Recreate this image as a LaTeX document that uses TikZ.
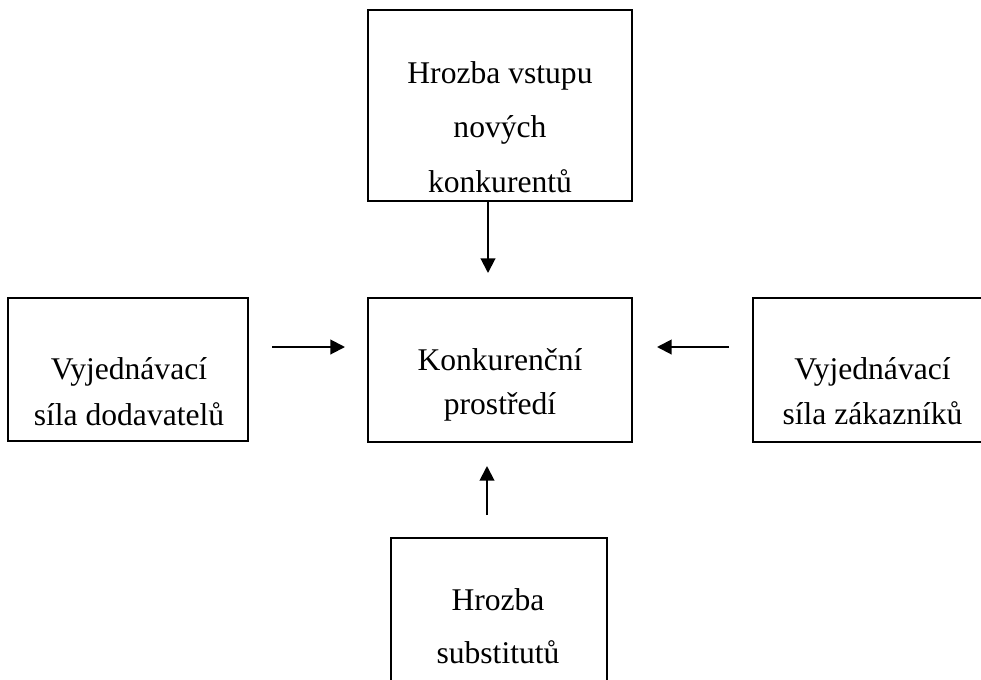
\documentclass[tikz,border=0pt]{standalone}
\usepackage{fontspec}
\setmainfont{Liberation Serif}
\usetikzlibrary{arrows.meta}
\begin{document}
\begin{tikzpicture}[x=0.75pt,y=-0.75pt,
  box/.style={draw=black,line width=1.5pt,inner sep=0pt,minimum width=#1},
  txt/.style={anchor=base,inner sep=0pt,font=\fontsize{23.7}{28}\selectfont},
  arr/.style={line width=1.5pt,-{Triangle[length=11pt,width=11pt]}}]
\useasboundingbox (0,0) rectangle (981,679);
\clip (0,0) rectangle (981,679);
\fill[white] (0,0) rectangle (981,679);
% boxes
\node[box=198pt,minimum height=143.25pt] (top) at (500,105.5) {};
\node[box=180pt,minimum height=107.25pt] (left) at (128,369.5) {};
\node[box=198pt,minimum height=108pt] (center) at (500,370) {};
\node[box=179.25pt,minimum height=108pt] (right) at (872.5,370) {};
\node[box=162pt,minimum height=112.5pt] (bottom) at (499,613) {};
% texts
\node[txt] (t1) at (500,83) {Hrozba vstupu};
\node[txt] (t2) at (500,137) {nových};
\node[txt] (t3) at (500,192) {konkurentů};
\node[txt] (l1) at (129,379) {Vyjednávací};
\node[txt] (l2) at (129,425) {síla dodavatelů};
\node[txt] (c1) at (500,370) {Konkurenční};
\node[txt] (c2) at (500,414) {prostředí};
\node[txt] (r1) at (872.5,379) {Vyjednávací};
\node[txt] (r2) at (872.5,424) {síla zákazníků};
\node[txt] (b1) at (498,610) {Hrozba};
\node[txt] (b2) at (498,663) {substitutů};
% arrows
\coordinate (aTe) at (488,273);
\draw[arr] (aTe |- top.south) -- (aTe);
\coordinate (aLs) at (272,347);
\coordinate (aLe) at (345,347);
\draw[arr] (aLs) -- (aLe);
\coordinate (aRs) at (729,347);
\coordinate (aRe) at (657,347);
\draw[arr] (aRs) -- (aRe);
\coordinate (aBs) at (487,515);
\coordinate (aBe) at (487,466);
\draw[arr] (aBs) -- (aBe);
\end{tikzpicture}
\end{document}
